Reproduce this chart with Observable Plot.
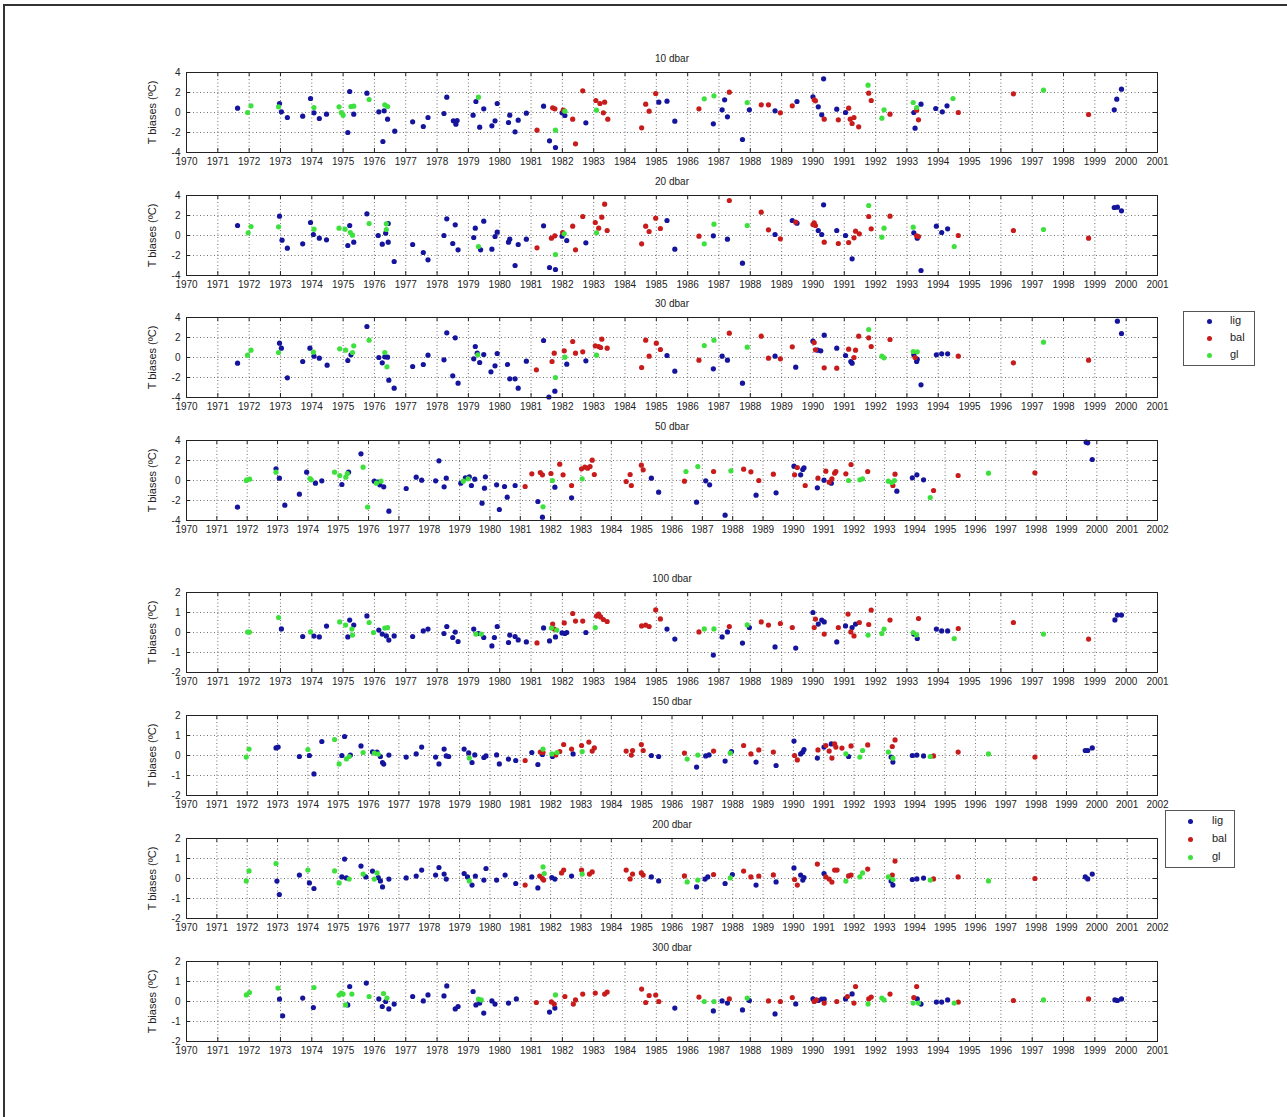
<!DOCTYPE html>
<html>
<head>
<meta charset="utf-8">
<script src="https://cdn.jsdelivr.net/npm/d3@7"></script>
<script src="https://cdn.jsdelivr.net/npm/@observablehq/plot@0.6"></script>
<style>
  body { margin: 0; background: #fff; }
  #page { position: relative; width: 1287px; height: 1117px; overflow: hidden; background: #fff;
          font-family: "Liberation Sans", Arial, sans-serif; }
  .panel { position: absolute; left: 0; }
  .edge { position: absolute; background: #333; }
  .legend { position: absolute; border: 1px solid #555; background: #fff; font-size: 11px; color: #222; }
  .legend .sw { position: absolute; width: 5px; height: 5px; border-radius: 50%; }
  .legend .lb { position: absolute; line-height: 12px; }
</style>
</head>
<body>
<div id="page">
  <div class="edge" style="left:3px;top:4px;width:1284px;height:2px;"></div>
  <div class="edge" style="left:3px;top:4px;width:2px;height:1113px;"></div>
</div>
<script>
// Temperature bias per profile: [decimal year, bias (ºC), source group]
const groups = ["lig", "bal", "gl"];
const groupColors = ["#14149c", "#c81c1c", "#3ee03e"];

const years2001 = d3.range(1970, 2002);
const years2002 = d3.range(1970, 2003);
const yTicksWide = [-4, -2, 0, 2, 4];
const yTicksNarrow = [-2, -1, 0, 1, 2];

const bias10 = [
  [1971.63,0.43,"lig"],[1972.06,0.67,"gl"],[1971.95,0.0,"gl"],[1972.97,0.9,"lig"],[1972.94,0.57,"gl"],
  [1973.03,0.07,"lig"],[1973.22,-0.5,"lig"],[1973.71,-0.37,"lig"],[1973.96,1.4,"lig"],[1974.07,0.5,"gl"],
  [1974.07,-0.03,"lig"],[1974.24,-0.6,"lig"],[1974.47,-0.17,"lig"],[1974.87,0.57,"gl"],[1974.94,0.0,"gl"],
  [1975.0,-0.27,"gl"],[1975.21,2.1,"lig"],[1975.15,-2.0,"lig"],[1975.25,0.6,"gl"],[1975.34,0.63,"gl"],
  [1975.34,-0.17,"lig"],[1975.76,1.93,"lig"],[1975.83,1.3,"gl"],[1976.14,0.07,"lig"],[1976.27,-2.9,"lig"],
  [1976.33,0.77,"gl"],[1976.42,0.6,"gl"],[1976.31,0.17,"lig"],[1976.42,-0.67,"lig"],[1976.65,-1.87,"lig"],
  [1977.22,-0.93,"lig"],[1977.56,-1.4,"lig"],[1977.71,-0.5,"lig"],[1978.22,-0.1,"lig"],[1978.31,1.53,"lig"],
  [1978.52,-0.83,"lig"],[1978.6,-1.17,"lig"],[1978.64,-0.8,"lig"],[1979.15,-0.27,"lig"],[1979.24,1.1,"lig"],
  [1979.32,1.53,"gl"],[1979.36,-1.47,"lig"],[1979.49,0.37,"lig"],[1979.75,-1.33,"lig"],[1979.85,-0.83,"lig"],
  [1979.92,0.9,"lig"],[1980.28,-1.0,"lig"],[1980.32,-0.27,"lig"],[1980.49,-1.93,"lig"],[1980.59,-0.77,"lig"],
  [1980.85,-0.07,"lig"],[1981.19,-1.77,"bal"],[1981.4,0.63,"lig"],[1981.69,0.47,"bal"],[1981.76,0.37,"bal"],
  [1981.59,-2.83,"lig"],[1981.78,-3.5,"lig"],[1981.78,-1.77,"gl"],[1981.99,-0.03,"lig"],[1982.03,0.23,"bal"],
  [1982.08,0.13,"gl"],[1982.08,-0.3,"lig"],[1982.33,-0.67,"bal"],[1982.42,-3.13,"bal"],[1982.65,2.17,"bal"],
  [1982.75,-1.03,"lig"],[1983.07,1.2,"bal"],[1983.09,0.23,"gl"],[1983.2,0.9,"bal"],[1983.31,-0.03,"bal"],
  [1983.35,1.03,"bal"],[1983.45,-0.67,"bal"],[1984.53,-1.53,"bal"],[1984.66,0.83,"bal"],[1984.77,0.13,"bal"],
  [1984.98,1.9,"bal"],[1985.08,1.03,"lig"],[1985.34,1.13,"lig"],[1985.59,-0.87,"lig"],[1986.36,0.37,"bal"],
  [1986.53,1.37,"gl"],[1986.84,1.67,"gl"],[1986.82,-1.13,"lig"],[1987.1,0.27,"lig"],[1987.18,1.27,"lig"],
  [1987.27,-0.43,"lig"],[1987.33,2.03,"bal"],[1987.75,-2.7,"lig"],[1987.9,1.0,"gl"],[1987.97,0.27,"lig"],
  [1988.35,0.77,"bal"],[1988.58,0.77,"bal"],[1988.79,0.17,"lig"],[1988.96,-0.03,"bal"],[1989.34,0.67,"bal"],
  [1989.49,1.1,"lig"],[1990.0,1.57,"lig"],[1990.04,1.27,"bal"],[1990.08,1.17,"bal"],[1990.17,0.57,"lig"],
  [1990.28,-0.23,"lig"],[1990.34,3.37,"lig"],[1990.36,-0.67,"bal"],[1990.76,0.33,"lig"],[1990.81,-0.73,"bal"],
  [1991.04,0.0,"lig"],[1991.14,0.43,"bal"],[1991.19,-0.67,"bal"],[1991.31,-0.5,"bal"],[1991.25,-1.1,"bal"],
  [1991.46,-1.43,"bal"],[1991.76,2.73,"gl"],[1991.78,1.93,"bal"],[1991.86,1.2,"bal"],[1992.2,-0.57,"gl"],
  [1992.27,0.27,"gl"],[1992.46,-0.17,"bal"],[1993.2,1.0,"gl"],[1993.22,0.0,"lig"],[1993.31,0.23,"bal"],
  [1993.26,-1.57,"lig"],[1993.31,0.5,"gl"],[1993.37,-0.73,"bal"],[1993.45,0.83,"lig"],[1993.92,0.4,"lig"],
  [1994.13,0.07,"lig"],[1994.28,0.67,"lig"],[1994.47,1.4,"gl"],[1994.64,0.0,"bal"],[1996.4,1.87,"bal"],
  [1997.36,2.23,"gl"],[1998.8,-0.2,"bal"],[1999.62,0.27,"lig"],[1999.7,1.33,"lig"],[1999.85,2.33,"lig"]
];

const bias20 = [
  [1971.63,1.0,"lig"],[1972.06,0.9,"gl"],[1971.97,0.27,"gl"],[1972.97,1.93,"lig"],[1972.94,0.87,"gl"],
  [1973.05,-0.47,"lig"],[1973.22,-1.27,"lig"],[1973.71,-0.83,"lig"],[1973.96,1.3,"lig"],[1974.07,0.63,"gl"],
  [1974.05,0.1,"lig"],[1974.24,-0.27,"lig"],[1974.47,-0.43,"lig"],[1974.87,0.73,"gl"],[1975.06,0.63,"gl"],
  [1975.21,1.0,"lig"],[1975.15,-1.0,"lig"],[1975.23,0.3,"gl"],[1975.3,0.03,"gl"],[1975.34,-0.67,"lig"],
  [1975.76,2.17,"lig"],[1975.83,1.2,"gl"],[1976.12,0.0,"lig"],[1976.25,-0.87,"lig"],[1976.36,0.23,"lig"],
  [1976.38,1.17,"gl"],[1976.38,0.6,"gl"],[1976.44,1.2,"lig"],[1976.44,-0.67,"lig"],[1976.63,-2.6,"lig"],
  [1977.22,-0.9,"lig"],[1977.56,-1.7,"lig"],[1977.71,-2.43,"lig"],[1978.22,0.0,"lig"],[1978.31,1.67,"lig"],
  [1978.5,-0.8,"lig"],[1978.58,1.07,"lig"],[1978.67,-1.43,"lig"],[1979.22,0.73,"lig"],[1979.17,-0.2,"lig"],
  [1979.32,-1.1,"gl"],[1979.39,-1.43,"lig"],[1979.49,1.43,"lig"],[1979.75,-1.37,"lig"],[1979.85,-0.1,"lig"],
  [1979.92,0.33,"lig"],[1980.28,-0.67,"lig"],[1980.32,-0.37,"lig"],[1980.49,-3.0,"lig"],[1980.59,-0.9,"lig"],
  [1980.85,-0.37,"lig"],[1981.19,-1.23,"bal"],[1981.4,0.97,"lig"],[1981.65,-0.27,"bal"],[1981.76,-0.03,"bal"],
  [1981.59,-3.2,"lig"],[1981.78,-3.4,"lig"],[1981.78,-1.9,"gl"],[1981.99,-0.07,"lig"],[1982.01,0.3,"bal"],
  [1982.06,0.17,"gl"],[1982.14,-0.5,"lig"],[1982.33,0.93,"bal"],[1982.42,-1.43,"bal"],[1982.65,1.9,"bal"],
  [1982.75,-0.73,"lig"],[1983.05,1.3,"bal"],[1983.09,0.27,"gl"],[1983.16,0.73,"bal"],[1983.26,1.83,"bal"],
  [1983.35,3.13,"bal"],[1983.43,0.5,"bal"],[1984.53,-0.83,"bal"],[1984.66,0.93,"bal"],[1984.77,0.4,"bal"],
  [1984.98,1.73,"bal"],[1985.13,0.7,"bal"],[1985.34,1.5,"lig"],[1985.59,-1.37,"lig"],[1986.36,-0.07,"bal"],
  [1986.53,-0.83,"gl"],[1986.84,1.13,"gl"],[1986.82,-0.03,"lig"],[1987.27,-0.37,"lig"],[1987.33,3.5,"bal"],
  [1987.75,-2.77,"lig"],[1987.9,1.0,"gl"],[1988.35,2.33,"bal"],[1988.58,0.57,"bal"],[1988.79,0.1,"lig"],
  [1988.96,-0.33,"bal"],[1989.34,1.5,"lig"],[1989.45,1.33,"bal"],[1989.49,1.23,"lig"],[1990.0,1.1,"bal"],
  [1990.04,1.27,"bal"],[1990.08,1.0,"bal"],[1990.17,0.5,"lig"],[1990.28,0.1,"lig"],[1990.34,3.07,"lig"],
  [1990.36,-0.67,"bal"],[1990.76,0.5,"lig"],[1990.81,-0.8,"bal"],[1991.04,0.0,"lig"],[1991.14,-0.7,"bal"],
  [1991.25,-2.33,"lig"],[1991.31,-0.23,"bal"],[1991.36,0.43,"bal"],[1991.48,0.17,"bal"],[1991.78,3.0,"gl"],
  [1991.78,1.9,"bal"],[1991.86,0.67,"bal"],[1992.2,-0.17,"gl"],[1992.27,0.73,"gl"],[1992.46,1.93,"bal"],
  [1993.2,0.83,"gl"],[1993.22,0.27,"lig"],[1993.31,-0.03,"bal"],[1993.33,-0.27,"lig"],[1993.37,-0.1,"bal"],
  [1993.45,-3.5,"lig"],[1993.94,0.93,"lig"],[1994.11,0.3,"lig"],[1994.3,0.67,"lig"],[1994.51,-1.1,"gl"],
  [1994.64,0.0,"bal"],[1996.4,0.5,"bal"],[1997.36,0.6,"gl"],[1998.8,-0.27,"bal"],[1999.62,2.8,"lig"],
  [1999.72,2.83,"lig"],[1999.85,2.47,"lig"]
];

const bias30 = [
  [1971.63,-0.57,"lig"],[1971.95,0.23,"gl"],[1972.06,0.73,"gl"],[1972.97,1.43,"lig"],[1973.03,0.93,"lig"],
  [1972.94,0.5,"gl"],[1973.22,-2.03,"lig"],[1973.71,-0.4,"lig"],[1973.94,0.93,"lig"],[1974.05,0.53,"gl"],
  [1974.07,0.13,"lig"],[1974.24,-0.07,"lig"],[1974.49,-0.77,"lig"],[1974.89,0.87,"gl"],[1975.08,0.73,"gl"],
  [1975.15,-0.3,"lig"],[1975.25,0.27,"lig"],[1975.3,0.5,"gl"],[1975.34,1.17,"gl"],[1975.76,3.1,"lig"],
  [1975.83,1.73,"gl"],[1976.14,0.0,"lig"],[1976.25,-0.53,"lig"],[1976.33,0.07,"lig"],[1976.33,0.5,"gl"],
  [1976.42,0.03,"lig"],[1976.4,-0.93,"gl"],[1976.46,-2.27,"lig"],[1976.63,-3.07,"lig"],[1977.22,-0.9,"lig"],
  [1977.56,-0.7,"lig"],[1977.71,0.23,"lig"],[1978.22,-0.23,"lig"],[1978.31,2.47,"lig"],[1978.5,-1.83,"lig"],
  [1978.58,1.97,"lig"],[1978.67,-2.57,"lig"],[1979.17,-0.13,"lig"],[1979.22,1.1,"lig"],[1979.3,0.27,"gl"],
  [1979.28,0.43,"lig"],[1979.36,-0.5,"lig"],[1979.49,0.3,"lig"],[1979.72,-1.43,"lig"],[1979.85,-0.83,"lig"],
  [1979.92,0.4,"lig"],[1980.25,-0.7,"lig"],[1980.32,-2.13,"lig"],[1980.49,-2.13,"lig"],[1980.59,-3.07,"lig"],
  [1980.85,-0.37,"lig"],[1981.17,-1.23,"bal"],[1981.4,1.7,"lig"],[1981.57,-3.95,"lig"],[1981.67,-0.4,"bal"],
  [1981.74,0.43,"bal"],[1981.76,-3.37,"lig"],[1981.78,-2.0,"gl"],[1982.06,0.67,"bal"],[1982.08,0.03,"gl"],
  [1982.14,-0.67,"lig"],[1982.33,1.6,"bal"],[1982.42,0.43,"bal"],[1982.65,0.57,"bal"],[1982.75,-0.33,"lig"],
  [1983.05,1.17,"bal"],[1983.09,0.23,"gl"],[1983.16,1.1,"bal"],[1983.26,1.83,"bal"],[1983.22,1.0,"bal"],
  [1983.43,0.93,"bal"],[1984.53,-1.0,"bal"],[1984.66,1.73,"bal"],[1984.77,0.13,"bal"],[1985.0,1.43,"bal"],
  [1985.13,0.8,"bal"],[1985.34,0.2,"lig"],[1985.59,-1.37,"lig"],[1986.36,-0.27,"bal"],[1986.53,1.2,"gl"],
  [1986.84,1.73,"gl"],[1986.82,-1.13,"lig"],[1987.1,0.13,"lig"],[1987.27,-0.27,"lig"],[1987.33,2.43,"bal"],
  [1987.75,-2.57,"lig"],[1987.9,1.03,"gl"],[1988.35,2.13,"bal"],[1988.58,-0.07,"bal"],[1988.79,0.13,"lig"],
  [1988.96,-0.13,"bal"],[1989.34,1.07,"bal"],[1989.45,-0.97,"lig"],[1990.0,1.63,"lig"],[1990.04,1.5,"bal"],
  [1990.08,0.77,"bal"],[1990.15,0.73,"lig"],[1990.25,0.67,"lig"],[1990.36,2.23,"lig"],[1990.36,-1.03,"bal"],
  [1990.76,0.93,"lig"],[1990.76,-1.07,"bal"],[1991.04,0.2,"lig"],[1991.14,0.83,"bal"],[1991.21,-0.4,"lig"],
  [1991.25,-0.57,"lig"],[1991.31,0.0,"bal"],[1991.36,0.73,"bal"],[1991.46,2.13,"bal"],[1991.78,2.8,"gl"],
  [1991.78,1.97,"bal"],[1991.86,1.1,"bal"],[1992.2,0.13,"gl"],[1992.27,-0.03,"gl"],[1992.46,1.8,"bal"],
  [1993.2,0.6,"gl"],[1993.22,0.27,"lig"],[1993.26,0.0,"bal"],[1993.31,-0.4,"lig"],[1993.33,0.57,"gl"],
  [1993.33,-0.17,"lig"],[1993.45,-2.73,"lig"],[1993.94,0.27,"lig"],[1994.11,0.37,"lig"],[1994.3,0.37,"lig"],
  [1994.64,0.13,"bal"],[1996.4,-0.53,"bal"],[1997.36,1.53,"gl"],[1998.8,-0.27,"bal"],[1999.72,3.63,"lig"],
  [1999.85,2.4,"lig"]
];

const bias50 = [
  [1971.68,-2.67,"lig"],[1971.99,0.07,"gl"],[1972.08,0.13,"gl"],[1971.97,0.0,"gl"],[1972.95,1.17,"lig"],
  [1972.95,0.83,"gl"],[1973.06,0.23,"lig"],[1973.24,-2.47,"lig"],[1973.72,-1.37,"lig"],[1973.96,0.83,"lig"],
  [1974.07,0.2,"gl"],[1974.11,0.07,"gl"],[1974.25,-0.27,"lig"],[1974.46,-0.03,"lig"],[1974.88,0.83,"gl"],
  [1975.05,0.5,"gl"],[1975.12,-0.4,"lig"],[1975.25,0.33,"gl"],[1975.3,0.7,"gl"],[1975.34,0.83,"lig"],
  [1975.75,2.67,"lig"],[1975.82,1.33,"gl"],[1975.97,-2.67,"gl"],[1976.19,-0.07,"lig"],[1976.3,-0.17,"lig"],
  [1976.26,-0.27,"gl"],[1976.37,-0.43,"lig"],[1976.41,-0.07,"gl"],[1976.5,-0.63,"lig"],[1976.67,-3.07,"lig"],
  [1977.24,-0.8,"lig"],[1977.57,0.33,"lig"],[1977.75,0.03,"lig"],[1978.21,-0.03,"lig"],[1978.32,1.97,"lig"],
  [1978.49,-0.63,"lig"],[1978.56,0.23,"lig"],[1979.04,-0.27,"lig"],[1979.12,-0.07,"gl"],[1979.19,0.27,"lig"],
  [1979.28,0.17,"gl"],[1979.32,0.37,"lig"],[1979.39,-0.5,"lig"],[1979.5,0.13,"lig"],[1979.74,-2.27,"lig"],
  [1979.85,0.37,"lig"],[1979.82,-0.77,"lig"],[1980.22,-0.43,"lig"],[1980.31,-2.9,"lig"],[1980.48,-0.6,"lig"],
  [1980.57,-1.67,"lig"],[1980.83,-0.5,"lig"],[1981.16,-0.6,"bal"],[1981.38,0.67,"bal"],[1981.58,-2.1,"lig"],
  [1981.66,0.8,"bal"],[1981.73,0.57,"bal"],[1981.75,-2.63,"gl"],[1981.73,-3.67,"lig"],[1982.01,0.7,"bal"],
  [1982.06,0.0,"gl"],[1982.14,-0.67,"lig"],[1982.3,1.63,"bal"],[1982.41,0.57,"bal"],[1982.69,-0.5,"bal"],
  [1982.69,-1.73,"lig"],[1983.02,1.17,"bal"],[1983.04,0.17,"gl"],[1983.13,1.33,"bal"],[1983.22,1.23,"bal"],
  [1983.3,1.4,"bal"],[1983.37,2.03,"bal"],[1983.44,0.6,"bal"],[1984.49,-0.1,"bal"],[1984.62,0.6,"bal"],
  [1984.66,-0.5,"bal"],[1984.99,1.53,"bal"],[1985.05,1.07,"bal"],[1985.32,0.23,"lig"],[1985.56,-1.17,"lig"],
  [1986.41,-0.07,"bal"],[1986.46,0.9,"gl"],[1986.85,1.4,"gl"],[1986.81,-2.17,"lig"],[1987.11,-0.03,"lig"],
  [1987.24,-0.43,"lig"],[1987.37,0.9,"bal"],[1987.75,-3.47,"lig"],[1987.94,0.97,"gl"],[1988.36,1.13,"bal"],
  [1988.6,0.87,"bal"],[1988.77,-1.47,"lig"],[1988.86,0.0,"bal"],[1989.34,0.63,"bal"],[1989.43,-1.23,"lig"],
  [1990.02,1.43,"lig"],[1990.04,0.57,"bal"],[1990.13,1.3,"bal"],[1990.24,0.57,"lig"],[1990.31,1.1,"lig"],
  [1990.35,1.27,"lig"],[1990.39,-0.5,"bal"],[1990.79,-0.73,"lig"],[1990.81,0.23,"bal"],[1991.01,0.03,"lig"],
  [1991.07,0.93,"bal"],[1991.18,-0.17,"bal"],[1991.27,0.17,"bal"],[1991.25,-0.27,"lig"],[1991.36,0.73,"bal"],
  [1991.4,0.9,"bal"],[1991.73,0.67,"bal"],[1991.9,1.6,"bal"],[1991.82,0.0,"gl"],[1992.19,0.07,"gl"],
  [1992.28,0.17,"gl"],[1992.45,0.9,"bal"],[1993.13,-0.07,"gl"],[1993.24,-0.2,"gl"],[1993.28,-0.5,"bal"],
  [1993.35,0.63,"bal"],[1993.41,-1.07,"lig"],[1993.33,0.0,"gl"],[1993.92,0.27,"lig"],[1994.07,0.57,"lig"],
  [1994.29,0.07,"lig"],[1994.51,-1.7,"gl"],[1994.62,-1.0,"bal"],[1995.43,0.5,"bal"],[1996.43,0.73,"gl"],
  [1997.96,0.77,"bal"],[1999.65,3.83,"lig"],[1999.7,3.77,"lig"],[1999.85,2.1,"lig"]
];

const bias100 = [
  [1971.95,0.02,"gl"],[1972.01,0.02,"gl"],[1972.94,0.75,"gl"],[1973.03,0.18,"lig"],[1973.71,-0.2,"lig"],
  [1973.96,0.03,"gl"],[1974.07,-0.18,"lig"],[1974.24,-0.22,"lig"],[1974.47,0.32,"lig"],[1974.89,0.53,"gl"],
  [1975.08,0.37,"gl"],[1975.15,-0.22,"lig"],[1975.21,0.62,"lig"],[1975.28,0.17,"gl"],[1975.34,0.37,"lig"],
  [1975.3,-0.13,"gl"],[1975.76,0.83,"lig"],[1975.83,0.5,"gl"],[1976.14,0.12,"lig"],[1975.97,0.0,"gl"],
  [1976.25,-0.08,"lig"],[1976.33,0.22,"gl"],[1976.42,0.25,"gl"],[1976.38,-0.17,"lig"],[1976.46,-0.38,"lig"],
  [1976.63,-0.17,"lig"],[1977.22,-0.2,"lig"],[1977.56,0.08,"lig"],[1977.71,0.17,"lig"],[1978.22,-0.05,"lig"],
  [1978.31,0.3,"lig"],[1978.5,-0.25,"lig"],[1978.58,0.02,"lig"],[1978.67,-0.45,"lig"],[1979.17,0.17,"lig"],
  [1979.24,-0.08,"gl"],[1979.32,-0.05,"lig"],[1979.41,-0.08,"gl"],[1979.49,-0.25,"lig"],[1979.75,-0.67,"lig"],
  [1979.83,-0.25,"lig"],[1979.92,0.3,"lig"],[1980.28,-0.5,"lig"],[1980.32,-0.13,"lig"],[1980.49,-0.2,"lig"],
  [1980.59,-0.37,"lig"],[1980.85,-0.47,"lig"],[1981.19,-0.52,"bal"],[1981.4,0.23,"lig"],[1981.59,-0.42,"lig"],
  [1981.65,0.22,"gl"],[1981.69,0.42,"bal"],[1981.74,0.17,"bal"],[1981.78,-0.22,"lig"],[1981.82,0.12,"gl"],
  [1981.99,-0.02,"lig"],[1982.06,0.48,"bal"],[1982.08,-0.05,"lig"],[1982.14,0.0,"lig"],[1982.33,0.95,"bal"],
  [1982.42,0.57,"bal"],[1982.65,0.57,"bal"],[1982.75,0.0,"lig"],[1983.05,0.25,"gl"],[1983.09,0.82,"bal"],
  [1983.16,0.92,"bal"],[1983.22,0.78,"bal"],[1983.31,0.65,"bal"],[1983.43,0.55,"bal"],[1984.53,0.33,"bal"],
  [1984.66,0.37,"bal"],[1984.77,0.3,"bal"],[1984.98,1.13,"bal"],[1985.13,0.68,"bal"],[1985.34,0.17,"lig"],
  [1985.59,-0.33,"lig"],[1986.36,0.03,"bal"],[1986.53,0.18,"gl"],[1986.84,0.18,"gl"],[1986.82,-1.13,"lig"],
  [1987.1,-0.22,"lig"],[1987.27,0.03,"lig"],[1987.33,0.3,"bal"],[1987.75,-0.53,"lig"],[1987.9,0.38,"gl"],
  [1987.97,0.25,"lig"],[1988.35,0.53,"bal"],[1988.58,0.37,"bal"],[1988.79,-0.72,"lig"],[1988.96,0.45,"bal"],
  [1989.34,0.25,"bal"],[1989.45,-0.78,"lig"],[1990.0,1.0,"lig"],[1990.04,0.25,"bal"],[1990.08,0.67,"bal"],
  [1990.17,0.42,"lig"],[1990.28,0.62,"lig"],[1990.36,0.53,"lig"],[1990.36,-0.08,"bal"],[1990.76,-0.47,"lig"],
  [1990.81,0.25,"bal"],[1991.04,0.33,"lig"],[1991.12,0.92,"bal"],[1991.21,0.03,"bal"],[1991.25,0.25,"lig"],
  [1991.31,-0.17,"bal"],[1991.36,0.42,"lig"],[1991.48,0.5,"bal"],[1991.76,-0.13,"gl"],[1991.78,0.4,"bal"],
  [1991.86,1.12,"bal"],[1992.2,-0.05,"gl"],[1992.27,0.17,"gl"],[1992.46,0.62,"bal"],[1993.2,0.0,"gl"],
  [1993.22,-0.08,"lig"],[1993.31,-0.12,"gl"],[1993.33,-0.3,"lig"],[1993.37,0.7,"bal"],[1993.94,0.17,"lig"],
  [1994.11,0.08,"lig"],[1994.3,0.08,"lig"],[1994.51,-0.3,"gl"],[1994.64,0.2,"bal"],[1996.4,0.5,"bal"],
  [1997.36,-0.08,"gl"],[1998.8,-0.33,"bal"],[1999.64,0.63,"lig"],[1999.72,0.87,"lig"],[1999.85,0.87,"lig"]
];

const bias150 = [
  [1971.97,-0.08,"gl"],[1972.06,0.32,"gl"],[1972.95,0.38,"lig"],[1973.02,0.42,"lig"],[1973.72,-0.05,"lig"],
  [1974.0,0.3,"gl"],[1974.05,0.0,"lig"],[1974.2,-0.92,"lig"],[1974.46,0.7,"lig"],[1974.88,0.8,"gl"],
  [1975.03,-0.42,"gl"],[1975.12,0.0,"lig"],[1975.21,0.95,"lig"],[1975.27,-0.17,"gl"],[1975.36,-0.05,"gl"],
  [1975.4,0.02,"lig"],[1975.75,0.48,"lig"],[1975.82,0.15,"gl"],[1976.13,0.18,"lig"],[1976.19,0.12,"gl"],
  [1976.28,0.17,"lig"],[1976.32,0.07,"gl"],[1976.39,-0.05,"lig"],[1976.46,-0.35,"lig"],[1976.5,-0.43,"lig"],
  [1976.67,0.02,"lig"],[1977.24,-0.08,"lig"],[1977.57,0.08,"lig"],[1977.75,0.42,"lig"],[1978.21,-0.08,"lig"],
  [1978.32,-0.42,"lig"],[1978.49,0.32,"lig"],[1978.56,-0.02,"lig"],[1978.64,-0.05,"lig"],[1979.15,0.32,"lig"],
  [1979.3,0.13,"lig"],[1979.32,-0.13,"gl"],[1979.41,-0.35,"lig"],[1979.5,0.03,"lig"],[1979.8,-0.1,"lig"],
  [1979.87,-0.02,"lig"],[1980.22,0.03,"lig"],[1980.31,-0.42,"lig"],[1980.61,-0.18,"lig"],[1980.85,-0.25,"lig"],
  [1981.16,-0.25,"bal"],[1981.38,0.15,"lig"],[1981.58,-0.45,"lig"],[1981.66,0.17,"bal"],[1981.75,0.32,"gl"],
  [1981.73,0.05,"lig"],[1981.75,0.15,"bal"],[1982.06,-0.05,"lig"],[1982.04,0.08,"gl"],[1982.17,0.03,"bal"],
  [1982.21,0.15,"gl"],[1982.3,0.2,"bal"],[1982.43,0.55,"bal"],[1982.69,0.32,"bal"],[1982.74,0.08,"lig"],
  [1983.02,0.5,"bal"],[1983.04,0.2,"gl"],[1983.26,0.67,"bal"],[1983.37,0.22,"bal"],[1983.44,0.38,"bal"],
  [1984.49,0.22,"bal"],[1984.66,0.02,"bal"],[1984.7,0.25,"bal"],[1984.99,0.55,"bal"],[1985.05,0.25,"bal"],
  [1985.32,0.0,"lig"],[1985.56,-0.05,"lig"],[1986.41,0.12,"bal"],[1986.5,-0.18,"gl"],[1986.85,0.02,"gl"],
  [1986.81,-0.58,"lig"],[1987.11,-0.02,"lig"],[1987.22,0.03,"lig"],[1987.37,0.22,"bal"],[1987.75,-0.28,"lig"],
  [1987.92,0.12,"gl"],[1987.96,0.2,"lig"],[1988.36,0.5,"bal"],[1988.6,0.08,"bal"],[1988.77,-0.33,"lig"],
  [1988.86,0.28,"bal"],[1989.34,0.17,"bal"],[1989.43,-0.5,"lig"],[1990.02,0.72,"lig"],[1990.04,0.0,"bal"],
  [1990.13,-0.22,"bal"],[1990.24,0.08,"lig"],[1990.31,0.17,"lig"],[1990.35,0.3,"lig"],[1990.79,-0.13,"lig"],
  [1990.81,0.28,"bal"],[1991.01,0.42,"lig"],[1991.07,0.5,"bal"],[1991.18,0.22,"bal"],[1991.27,-0.13,"bal"],
  [1991.25,0.58,"lig"],[1991.36,0.58,"bal"],[1991.4,0.42,"bal"],[1991.6,0.37,"bal"],[1991.73,0.08,"gl"],
  [1991.9,0.48,"bal"],[1991.82,-0.05,"lig"],[1992.19,-0.08,"gl"],[1992.28,0.25,"gl"],[1992.45,0.53,"bal"],
  [1993.13,0.17,"gl"],[1993.22,-0.08,"lig"],[1993.26,0.45,"bal"],[1993.28,-0.33,"lig"],[1993.35,0.78,"bal"],
  [1993.28,-0.13,"gl"],[1993.92,0.0,"lig"],[1994.07,0.02,"lig"],[1994.29,-0.02,"lig"],[1994.51,-0.05,"gl"],
  [1994.62,-0.02,"bal"],[1995.43,0.17,"bal"],[1996.43,0.08,"gl"],[1997.96,-0.08,"bal"],[1999.62,0.25,"lig"],
  [1999.7,0.25,"lig"],[1999.85,0.38,"lig"]
];

const bias200 = [
  [1971.97,-0.12,"gl"],[1972.06,0.38,"gl"],[1972.95,0.75,"gl"],[1972.98,-0.13,"lig"],[1973.06,-0.8,"lig"],
  [1973.72,0.17,"lig"],[1974.0,0.42,"gl"],[1974.05,-0.22,"lig"],[1974.2,-0.5,"lig"],[1974.88,0.38,"gl"],
  [1975.03,-0.22,"gl"],[1975.12,0.08,"lig"],[1975.21,0.97,"lig"],[1975.27,0.03,"lig"],[1975.36,-0.03,"gl"],
  [1975.75,0.62,"lig"],[1975.82,0.22,"gl"],[1975.91,0.08,"lig"],[1976.13,0.37,"lig"],[1976.19,-0.03,"gl"],
  [1976.28,0.28,"gl"],[1976.32,0.05,"lig"],[1976.39,-0.12,"lig"],[1976.46,-0.42,"lig"],[1976.67,-0.03,"lig"],
  [1977.24,0.03,"lig"],[1977.57,0.12,"lig"],[1977.75,0.42,"lig"],[1978.21,0.17,"lig"],[1978.32,0.55,"lig"],
  [1978.49,0.22,"lig"],[1978.56,-0.03,"lig"],[1979.15,0.25,"lig"],[1979.26,0.08,"lig"],[1979.32,-0.12,"gl"],
  [1979.41,-0.33,"lig"],[1979.52,0.12,"lig"],[1979.8,-0.08,"lig"],[1979.87,0.5,"lig"],[1980.22,-0.08,"lig"],
  [1980.5,0.17,"lig"],[1980.85,-0.25,"lig"],[1981.16,-0.33,"bal"],[1981.38,0.08,"lig"],[1981.58,-0.47,"lig"],
  [1981.64,0.12,"bal"],[1981.75,0.58,"gl"],[1981.73,0.0,"bal"],[1981.79,0.25,"gl"],[1981.77,-0.08,"bal"],
  [1982.04,0.05,"lig"],[1982.14,-0.03,"lig"],[1982.36,0.28,"bal"],[1982.43,0.42,"bal"],[1982.69,0.12,"lig"],
  [1983.02,0.42,"bal"],[1983.04,0.22,"gl"],[1983.28,0.22,"bal"],[1983.37,0.33,"bal"],[1984.49,0.42,"bal"],
  [1984.62,-0.02,"bal"],[1984.7,0.22,"bal"],[1984.99,0.28,"bal"],[1985.05,0.17,"bal"],[1985.32,0.08,"lig"],
  [1985.56,-0.12,"lig"],[1986.41,0.13,"bal"],[1986.5,-0.17,"gl"],[1986.85,-0.08,"gl"],[1986.81,-0.42,"lig"],
  [1987.09,-0.03,"lig"],[1987.18,0.08,"lig"],[1987.37,0.2,"bal"],[1987.75,-0.25,"lig"],[1987.92,0.03,"gl"],
  [1987.99,0.2,"lig"],[1988.36,0.37,"bal"],[1988.6,0.08,"bal"],[1988.77,-0.33,"lig"],[1988.86,0.12,"bal"],
  [1989.34,0.18,"bal"],[1989.43,-0.17,"lig"],[1990.02,0.53,"lig"],[1990.04,-0.05,"bal"],[1990.13,-0.33,"bal"],
  [1990.24,0.17,"lig"],[1990.31,-0.08,"lig"],[1990.35,0.05,"lig"],[1990.79,0.72,"bal"],[1991.01,0.25,"lig"],
  [1991.07,0.08,"bal"],[1991.18,-0.03,"bal"],[1991.27,-0.18,"bal"],[1991.36,0.42,"bal"],[1991.44,0.42,"bal"],
  [1991.73,-0.13,"gl"],[1991.82,0.13,"bal"],[1991.9,0.17,"bal"],[1992.19,0.08,"gl"],[1992.28,0.28,"gl"],
  [1992.45,0.47,"bal"],[1993.13,0.08,"gl"],[1993.22,-0.13,"lig"],[1993.26,0.17,"bal"],[1993.28,-0.33,"lig"],
  [1993.35,0.87,"bal"],[1993.28,-0.05,"gl"],[1993.92,-0.05,"lig"],[1994.07,-0.02,"lig"],[1994.29,0.02,"lig"],
  [1994.51,-0.08,"gl"],[1994.62,-0.02,"bal"],[1995.43,0.08,"bal"],[1996.43,-0.12,"gl"],[1997.96,0.0,"bal"],
  [1999.62,0.08,"lig"],[1999.7,-0.02,"lig"],[1999.85,0.22,"lig"]
];

const bias300 = [
  [1971.91,0.33,"gl"],[1972.01,0.45,"gl"],[1972.92,0.67,"gl"],[1972.97,0.12,"lig"],[1973.07,-0.72,"lig"],
  [1973.71,0.17,"lig"],[1974.05,-0.3,"lig"],[1974.07,0.7,"gl"],[1974.87,0.32,"gl"],[1974.94,0.42,"gl"],
  [1975.0,0.37,"gl"],[1975.08,-0.17,"gl"],[1975.15,-0.17,"lig"],[1975.21,0.75,"lig"],[1975.28,0.37,"gl"],
  [1975.74,0.92,"lig"],[1975.83,0.25,"gl"],[1976.14,0.13,"lig"],[1976.29,0.4,"gl"],[1976.25,-0.25,"lig"],
  [1976.36,0.0,"lig"],[1976.4,0.17,"gl"],[1976.46,-0.37,"lig"],[1976.63,-0.13,"lig"],[1977.22,0.25,"lig"],
  [1977.56,0.03,"lig"],[1977.71,0.33,"lig"],[1978.22,0.28,"lig"],[1978.31,0.78,"lig"],[1978.58,-0.37,"lig"],
  [1978.67,-0.25,"lig"],[1979.15,0.5,"lig"],[1979.24,-0.17,"lig"],[1979.32,0.12,"gl"],[1979.36,-0.08,"lig"],
  [1979.41,0.08,"gl"],[1979.49,-0.58,"lig"],[1979.75,0.03,"lig"],[1979.85,-0.13,"lig"],[1980.28,-0.08,"lig"],
  [1980.53,0.13,"lig"],[1981.17,-0.05,"bal"],[1981.59,-0.53,"lig"],[1981.65,-0.02,"bal"],[1981.78,0.33,"gl"],
  [1981.76,-0.33,"lig"],[1981.74,-0.13,"bal"],[1982.08,0.25,"bal"],[1982.35,-0.13,"bal"],[1982.42,0.08,"bal"],
  [1982.65,0.37,"bal"],[1983.05,0.42,"bal"],[1983.35,0.37,"bal"],[1983.43,0.47,"bal"],[1984.53,0.62,"bal"],
  [1984.66,-0.05,"bal"],[1984.77,0.3,"bal"],[1984.98,0.32,"bal"],[1985.08,0.0,"bal"],[1985.59,-0.33,"lig"],
  [1986.36,0.22,"bal"],[1986.53,0.0,"gl"],[1986.84,0.0,"gl"],[1986.82,-0.47,"lig"],[1987.1,0.03,"lig"],
  [1987.27,-0.08,"lig"],[1987.33,0.13,"bal"],[1987.75,-0.42,"lig"],[1987.9,0.17,"gl"],[1987.97,0.05,"lig"],
  [1988.58,0.03,"bal"],[1988.79,-0.62,"lig"],[1988.96,0.0,"bal"],[1989.34,0.2,"bal"],[1989.45,-0.12,"lig"],
  [1990.0,0.13,"lig"],[1990.04,0.0,"bal"],[1990.11,0.08,"bal"],[1990.17,0.05,"lig"],[1990.28,0.12,"lig"],
  [1990.36,0.12,"lig"],[1990.36,-0.08,"bal"],[1990.76,0.0,"bal"],[1991.04,0.13,"lig"],[1991.1,0.25,"bal"],
  [1991.25,0.38,"lig"],[1991.31,-0.08,"bal"],[1991.36,0.75,"bal"],[1991.76,-0.12,"gl"],[1991.78,0.13,"bal"],
  [1991.86,0.22,"bal"],[1992.2,0.17,"gl"],[1992.27,0.08,"gl"],[1992.46,0.37,"bal"],[1993.2,-0.08,"gl"],
  [1993.22,0.2,"bal"],[1993.31,0.75,"bal"],[1993.33,0.13,"lig"],[1993.37,-0.08,"gl"],[1993.45,-0.13,"lig"],
  [1993.94,-0.03,"lig"],[1994.11,-0.03,"lig"],[1994.3,0.08,"lig"],[1994.51,-0.08,"gl"],[1994.64,-0.03,"bal"],
  [1996.4,0.05,"bal"],[1997.36,0.08,"gl"],[1998.8,0.13,"bal"],[1999.64,0.08,"lig"],[1999.72,0.05,"lig"],
  [1999.85,0.13,"lig"]
];

// Panel layout: frame top edge (px), year axis, bias range
const panels = [
  {title: "10 dbar",  data: bias10,  top: 72,  years: years2001, yTicks: yTicksWide},
  {title: "20 dbar",  data: bias20,  top: 195, years: years2001, yTicks: yTicksWide},
  {title: "30 dbar",  data: bias30,  top: 317, years: years2001, yTicks: yTicksWide},
  {title: "50 dbar",  data: bias50,  top: 440, years: years2002, yTicks: yTicksWide},
  {title: "100 dbar", data: bias100, top: 592, years: years2001, yTicks: yTicksNarrow},
  {title: "150 dbar", data: bias150, top: 715, years: years2002, yTicks: yTicksNarrow},
  {title: "200 dbar", data: bias200, top: 838, years: years2002, yTicks: yTicksNarrow},
  {title: "300 dbar", data: bias300, top: 961, years: years2001, yTicks: yTicksNarrow}
];

const W = 1287, frameL = 186, frameR = 1157, frameH = 80;
const mt = 24, mb = 22;
const frameW = frameR - frameL;
const tickLen = 4;
const page = document.getElementById("page");

for (const p of panels) {
  const yr = p.years;
  const yt = p.yTicks;
  const chart = Plot.plot({
    width: W,
    height: mt + frameH + mb,
    marginLeft: frameL,
    marginRight: W - frameR,
    marginTop: mt,
    marginBottom: mb,
    style: {fontFamily: "'Liberation Sans', Arial, sans-serif", fontSize: "10px", color: "#222", background: "transparent", overflow: "visible"},
    x: {domain: [yr[0], yr[yr.length - 1]]},
    y: {domain: [yt[0], yt[yt.length - 1]]},
    marks: [
      Plot.gridX(yr.slice(1, -1), {stroke: "#333", strokeOpacity: 0.7, strokeDasharray: "1,2.5"}),
      Plot.gridY(yt.slice(1, -1), {stroke: "#333", strokeOpacity: 0.7, strokeDasharray: "1,2.5"}),
      Plot.tickX(yr, {x: d => d, insetTop: frameH - tickLen, stroke: "#222"}),
      Plot.tickX(yr, {x: d => d, insetBottom: frameH - tickLen, stroke: "#222"}),
      Plot.tickY(yt, {y: d => d, insetRight: frameW - tickLen, stroke: "#222"}),
      Plot.tickY(yt, {y: d => d, insetLeft: frameW - tickLen, stroke: "#222"}),
      Plot.axisX(yr, {tickSize: 0, tickPadding: 5, tickFormat: d => String(d), label: null, fontSize: 10}),
      Plot.axisY(yt, {tickSize: 0, tickPadding: 6, tickFormat: d => String(d), label: null, fontSize: 10}),
      ...groups.map((g, i) => Plot.dot(p.data.filter(d => d[2] === g), {
        x: d => d[0], y: d => d[1], r: 2.6, fill: groupColors[i], stroke: "none"
      })),
      Plot.frame({stroke: "#222"}),
      Plot.text([p.title], {text: d => d, frameAnchor: "top", lineAnchor: "middle", dy: -14, fontSize: 10, fill: "#222"}),
      Plot.text(["T biases (ºC)"], {text: d => d, frameAnchor: "left", textAnchor: "middle", dx: -34, rotate: -90, fontSize: 11, fill: "#222"})
    ]
  });
  chart.classList.add("panel");
  chart.style.top = (p.top - mt) + "px";
  page.appendChild(chart);
}

// Legend boxes beside the 30 dbar and 200 dbar panels
function addLegend(left, top, w, h, dotX, textX, rows) {
  const box = document.createElement("div");
  box.className = "legend";
  Object.assign(box.style, {left: left + "px", top: top + "px", width: w + "px", height: h + "px"});
  groups.forEach((g, i) => {
    const sw = document.createElement("div");
    sw.className = "sw";
    Object.assign(sw.style, {left: (dotX - 2.5) + "px", top: (rows[i] - 2.5) + "px", background: groupColors[i]});
    const lb = document.createElement("div");
    lb.className = "lb";
    lb.textContent = g;
    Object.assign(lb.style, {left: textX + "px", top: (rows[i] - 7) + "px"});
    box.appendChild(sw);
    box.appendChild(lb);
  });
  page.appendChild(box);
}
addLegend(1183, 311, 70, 53, 25, 46, [9, 26, 43]);
addLegend(1165, 810, 68, 56, 24, 46, [10, 28, 46]);
</script>
</body>
</html>
